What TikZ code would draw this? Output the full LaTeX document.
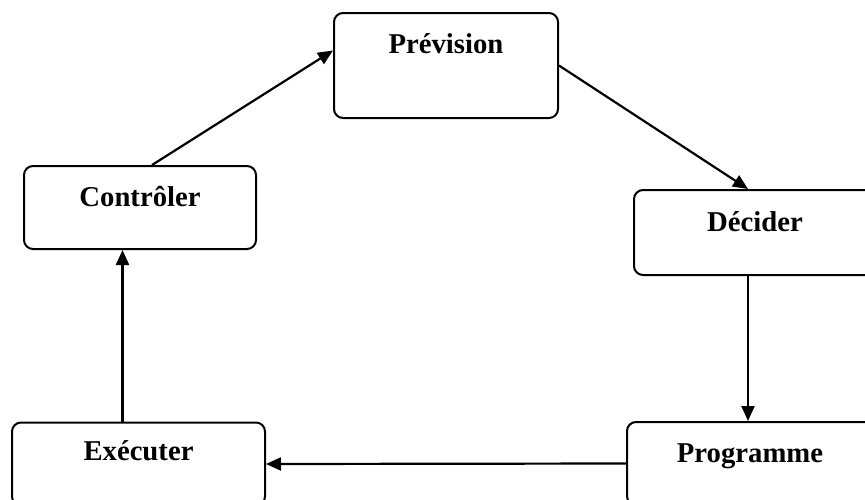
\documentclass[tikz,border=0pt]{standalone}
\usepackage{fontspec}
\setmainfont{Liberation Serif}
\usetikzlibrary{arrows.meta, calc}
\tikzset{
  box/.style={rectangle, rounded corners=9pt, draw=black, line width=2pt,
              fill=white, inner sep=0pt},
  txt/.style={anchor=base, font=\fontsize{28.7}{34}\selectfont\bfseries},
  arrow/.style={-{Triangle[length=15pt, width=13pt]}, line width=2.2pt},
}
\begin{document}
\begin{tikzpicture}[x=1pt, y=-1pt]
    \useasboundingbox (0,0) rectangle (865,499);

    % boites
    \node[box, minimum width=224pt, minimum height=105pt] (prev) at (446,65.5) {};
    \node[box, minimum width=232pt, minimum height=83pt] (ctl) at (140,207.5) {};
    \node[box, minimum width=242pt, minimum height=85pt] (dec) at (755,232.5) {};
    \node[box, minimum width=253pt, minimum height=83pt] (exe) at (138.5,464) {};
    \node[box, minimum width=246pt, minimum height=83pt] (prog) at (750,463.5) {};

    % textes
    \node[txt] (prevtxt) at ([yshift=-41pt]prev.north) {Prévision};
    \node[txt] (ctltxt) at ([yshift=-41pt]ctl.north) {Contrôler};
    \node[txt] (dectxt) at ([yshift=-42pt]dec.north) {Décider};
    \node[txt] (exetxt) at ([yshift=-39pt]exe.north) {Exécuter};
    \node[txt] (progtxt) at ([yshift=-41pt]prog.north) {Programme};

    % fleches
    \coordinate (decin) at ([xshift=-7pt]dec.north);
    \coordinate (decout) at ([xshift=-7pt]dec.south);
    \coordinate (exeout) at ([xshift=-16pt]exe.north);
    \coordinate (ctlout) at ([xshift=12pt]ctl.north);
    \coordinate (previn) at ([yshift=15pt]prev.west);

    \draw[arrow] (prev.east) -- (decin);
    \draw[arrow] (decout) -- (decout |- prog.north);
    \draw[arrow] (prog.west) -- (exe.east);
    \draw[arrow] (exeout) -- (exeout |- ctl.south);
    \draw[arrow] (ctlout) -- (previn);
\end{tikzpicture}
\end{document}
